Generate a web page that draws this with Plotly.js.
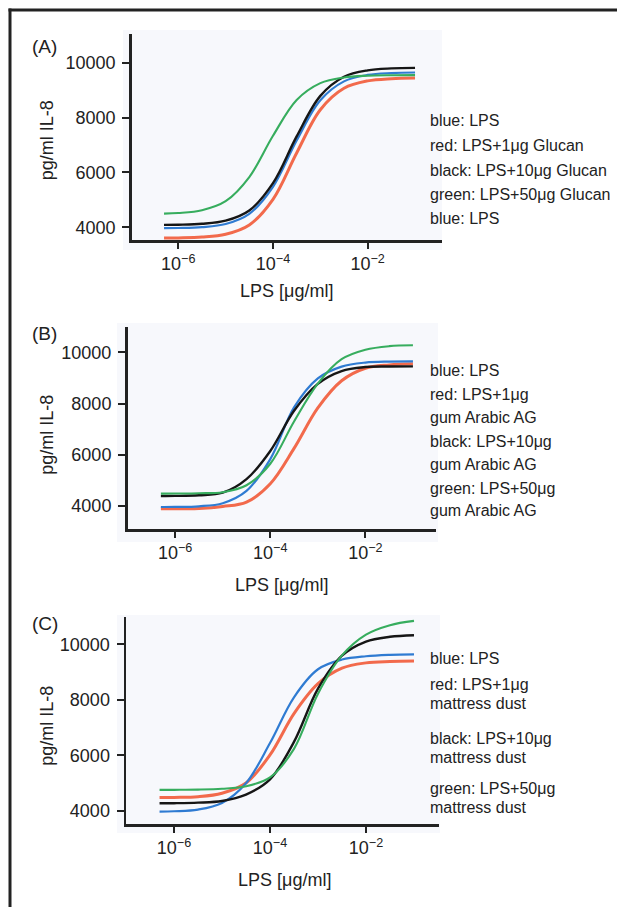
<!DOCTYPE html>
<html><head><meta charset="utf-8">
<script src="https://cdn.plot.ly/plotly-3.0.1.min.js"></script>
<style>html,body{margin:0;padding:0;background:#fff;overflow:hidden}#chart{width:617px;height:907px}</style>
</head><body><div id="chart"></div>
<script>
const W = 617, H = 907;

// LPS concentrations (µg/ml) at which the curves are read
const lpsConc = [5e-7, 1e-6, 3.16e-6, 1e-5, 3.16e-5, 1e-4, 3.16e-4, 1e-3, 3.16e-3, 1e-2, 3.16e-2, 1e-1];

const xTickVals = [1e-6, 1e-4, 1e-2];
const xTickText = ['10<sup>−6</sup>', '10<sup>−4</sup>', '10<sup>−2</sup>'];
const yTickVals = [4000, 6000, 8000, 10000];
const yTickText = ['4000', '6000', '8000', '10000'];

// Panel A: Glucan
const aBlue  = [3966, 3973, 4006, 4119, 4489, 5476, 7163, 8629, 9319, 9553, 9622, 9642];
const aRed   = [3605, 3612, 3642, 3745, 4084, 5018, 6710, 8286, 9067, 9337, 9418, 9441];
const aBlack = [4086, 4093, 4126, 4241, 4613, 5609, 7312, 8790, 9487, 9722, 9792, 9812];
const aGreen = [4499, 4521, 4622, 4951, 5831, 7334, 8640, 9255, 9463, 9525, 9543, 9548];

// Panel B: gum Arabic AG
const bBlue  = [3962, 3965, 3990, 4110, 4590, 5830, 7850, 8980, 9440, 9600, 9640, 9647];
const bRed   = [3896, 3896, 3900, 3980, 4150, 4870, 6250, 7830, 8890, 9380, 9510, 9556];
const bBlack = [4393, 4395, 4420, 4520, 5050, 6150, 7720, 8770, 9270, 9425, 9445, 9451];
const bGreen = [4484, 4488, 4500, 4540, 4811, 5650, 7300, 8780, 9730, 10100, 10240, 10274];

// Panel C: mattress dust
const cBlue  = [3965, 3980, 4040, 4280, 4990, 6440, 8090, 9100, 9450, 9570, 9620, 9638];
const cRed   = [4472, 4480, 4505, 4630, 5000, 6010, 7500, 8580, 9140, 9330, 9380, 9397];
const cBlack = [4267, 4270, 4290, 4350, 4580, 5130, 6480, 8400, 9590, 10100, 10270, 10326];
const cGreen = [4750, 4752, 4760, 4790, 4880, 5200, 6230, 8220, 9600, 10350, 10690, 10845];

const panelLabels = ['(A)', '(B)', '(C)'];
const xTitle = 'LPS [μg/ml]';
const yTitle = 'pg/ml IL-8';

const legendA = ['blue: LPS', 'red: LPS+1μg Glucan', 'black: LPS+10μg Glucan', 'green: LPS+50μg Glucan', 'blue: LPS'];
const legendB = ['blue: LPS', 'red: LPS+1μg', 'gum Arabic AG', 'black: LPS+10μg', 'gum Arabic AG', 'green: LPS+50μg', 'gum Arabic AG'];
const legendC = ['blue: LPS', 'red: LPS+1μg', 'mattress dust', 'black: LPS+10μg', 'mattress dust', 'green: LPS+50μg', 'mattress dust'];

// ---------- layout geometry (pixels) ----------
const px = v => v / W;
const py = v => 1 - v / H;
const FONT = 'Liberation Sans, Arial, Helvetica, sans-serif';
const INK = '#222222';

const panels = [
  {ax: '', dx: [131.7, 441.7], dy: [34, 240], xr: [-6.984, -0.437], yr: [3536, 11046],
   series: [aRed, aBlue, aBlack, aGreen], legend: legendA,
   legY: [120.7, 145, 170, 194.3, 218.3],
   bg: [123, 30, 442, 250], label: [45, 46.7], xt: [286.7, 290.7], yt: [46.7, 140.5]},
  {ax: '2', dx: [127.5, 436], dy: [326.7, 529], xr: [-7.003, -0.515], yr: [3103, 11000],
   series: [bRed, bBlue, bBlack, bGreen], legend: legendB,
   legY: [370, 394.5, 417, 441, 464.3, 488.5, 511],
   bg: [117, 323, 438, 542], label: [45, 333.3], xt: [281.5, 585], yt: [46.7, 435]},
  {ax: '3', dx: [126, 439], dy: [616.7, 824], xr: [-7.0, -0.479], yr: [3520, 10995],
   series: [cRed, cBlue, cBlack, cGreen], legend: legendC,
   legY: [658.5, 684, 703.5, 738.5, 757.5, 788.5, 807.5],
   bg: [117, 615, 440, 833], label: [45, 623.3], xt: [284, 880], yt: [46.7, 726]}
];

const colors = ['#f26a4c', '#2f7bd2', '#161616', '#37ad5e'];
const widths = [3, 2.2, 2.4, 2.1];
const names = ['red', 'blue', 'black', 'green'];

const traces = [];
const layout = {
  width: W, height: H,
  margin: {l: 0, r: 0, t: 0, b: 0},
  paper_bgcolor: '#ffffff',
  plot_bgcolor: 'rgba(0,0,0,0)',
  showlegend: false,
  font: {family: FONT, color: INK, size: 18},
  shapes: [],
  annotations: []
};

// outer frame (top and left edges)
layout.shapes.push({type: 'line', xref: 'paper', yref: 'paper', x0: px(8.5), x1: 1, y0: py(10), y1: py(10), line: {color: INK, width: 3}});
layout.shapes.push({type: 'line', xref: 'paper', yref: 'paper', x0: px(10), x1: px(10), y0: py(8.5), y1: 0, line: {color: INK, width: 3}});

panels.forEach((p, i) => {
  const xa = 'xaxis' + p.ax, ya = 'yaxis' + p.ax;
  const xid = 'x' + p.ax, yid = 'y' + p.ax;
  layout[xa] = {
    domain: [px(p.dx[0]), px(p.dx[1])], anchor: yid, type: 'log', range: p.xr,
    tickvals: xTickVals, ticktext: xTickText, ticks: 'outside', ticklen: 6, tickwidth: 2, tickcolor: INK,
    showline: true, linecolor: INK, linewidth: 2.5, showgrid: false, zeroline: false,
    tickfont: {family: FONT, size: 18, color: INK}, fixedrange: true
  };
  layout[ya] = {
    domain: [py(p.dy[1]), py(p.dy[0])], anchor: xid, range: p.yr,
    tickvals: yTickVals, ticktext: yTickText, ticks: 'outside', ticklen: 7, tickwidth: 2, tickcolor: INK,
    showline: true, linecolor: INK, linewidth: 2.5, showgrid: false, zeroline: false,
    tickfont: {family: FONT, size: 18, color: INK}, ticklabelstandoff: 3, fixedrange: true
  };
  // light plot-area panel
  layout.shapes.push({type: 'rect', xref: 'paper', yref: 'paper', layer: 'below',
    x0: px(p.bg[0]), x1: px(p.bg[2]), y0: py(p.bg[3]), y1: py(p.bg[1]),
    fillcolor: '#f7f8fc', line: {width: 0}});
  p.series.forEach((ys, k) => {
    traces.push({type: 'scatter', mode: 'lines', x: lpsConc, y: ys, xaxis: xid, yaxis: yid,
      name: names[k], line: {color: colors[k], width: widths[k], shape: 'spline', smoothing: 1}, hoverinfo: 'skip'});
  });
  // panel label
  layout.annotations.push({xref: 'paper', yref: 'paper', x: px(p.label[0]), y: py(p.label[1]),
    xanchor: 'center', yanchor: 'middle', showarrow: false, text: panelLabels[i], font: {size: 19, family: FONT, color: INK}});
  // axis titles
  layout.annotations.push({xref: 'paper', yref: 'paper', x: px(p.xt[0]), y: py(p.xt[1]),
    xanchor: 'center', yanchor: 'middle', showarrow: false, text: xTitle, font: {size: 18, family: FONT, color: INK}});
  layout.annotations.push({xref: 'paper', yref: 'paper', x: px(p.yt[0]), y: py(p.yt[1]),
    xanchor: 'center', yanchor: 'middle', showarrow: false, textangle: -90, text: yTitle, font: {size: 18, family: FONT, color: INK}});
  // text legend
  p.legend.forEach((t, j) => {
    layout.annotations.push({xref: 'paper', yref: 'paper', x: px(428), y: py(p.legY[j]),
      xanchor: 'left', yanchor: 'middle', showarrow: false, text: t, font: {size: 16, family: FONT, color: INK}});
  });
});

Plotly.newPlot('chart', traces, layout, {displayModeBar: false, staticPlot: true});
</script>
</body></html>
